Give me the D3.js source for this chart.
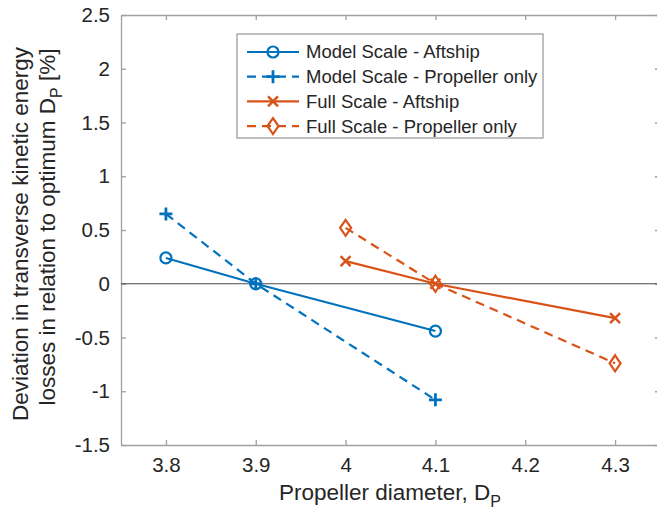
<!DOCTYPE html>
<html>
<head>
<meta charset="utf-8">
<script src="https://cdn.jsdelivr.net/npm/d3@7.9.0/dist/d3.min.js"></script>
<style>
  body { margin: 0; background: #fff; }
  svg { display: block; font-family: "Liberation Sans", Arial, Helvetica, sans-serif; }
</style>
</head>
<body>
<div id="chart"></div>
<script>
// values
const modelDiameters = [3.8, 3.9, 4.1];
const modelAftship = [0.24, 0, -0.44];
const modelPropOnly = [0.65, 0, -1.08];
const fullDiameters = [4.0, 4.1, 4.3];
const fullAftship = [0.21, 0, -0.32];
const fullPropOnly = [0.52, 0, -0.74];

const xTicks = [3.8, 3.9, 4.0, 4.1, 4.2, 4.3];
const yTicks = [-1.5, -1, -0.5, 0, 0.5, 1, 1.5, 2, 2.5];
const seriesNames = [
  'Model Scale - Aftship',
  'Model Scale - Propeller only',
  'Full Scale - Aftship',
  'Full Scale - Propeller only'
];

const blue = '#0072BD';
const orange = '#D95319';
const textColor = '#262626';
const axisColor = '#a0a0a0';

const width = 657, height = 514;
const plot = { left: 121, right: 660, top: 15, bottom: 445 };

const svg = d3.select('#chart')
  .append('svg')
  .attr('width', width)
  .attr('height', height);

const xScale = d3.scaleLinear().domain([3.75, 4.35]).range([plot.left, plot.right]);
const yScale = d3.scaleLinear().domain([-1.5, 2.5]).range([plot.bottom, plot.top]);

const fmt = d => String(d);

// axes, ticks pointing inward like matlab
const xAxis = svg.append('g')
  .attr('transform', `translate(0,${plot.bottom})`)
  .call(d3.axisBottom(xScale).tickValues(xTicks).tickFormat(fmt)
    .tickSizeInner(-5).tickSizeOuter(0).tickPadding(12));
const xTop = svg.append('g')
  .attr('transform', `translate(0,${plot.top})`)
  .call(d3.axisTop(xScale).tickValues(xTicks).tickFormat('')
    .tickSizeInner(-5).tickSizeOuter(0));
const yAxis = svg.append('g')
  .attr('transform', `translate(${plot.left},0)`)
  .call(d3.axisLeft(yScale).tickValues(yTicks).tickFormat(fmt)
    .tickSizeInner(-5).tickSizeOuter(0).tickPadding(11));
const yRight = svg.append('g')
  .attr('transform', `translate(${plot.right},0)`)
  .call(d3.axisRight(yScale).tickValues(yTicks).tickFormat('')
    .tickSizeInner(-5).tickSizeOuter(0));

[xAxis, xTop, yAxis, yRight].forEach(g => {
  g.select('.domain').attr('stroke', axisColor).attr('stroke-width', 1.3);
  g.selectAll('.tick line').attr('stroke', axisColor).attr('stroke-width', 1.3);
  g.selectAll('.tick text')
    .attr('fill', textColor)
    .style('font-size', '20.5px')
    .style('font-family', '"Liberation Sans", Arial, sans-serif');
});

// zero line
svg.append('line')
  .attr('x1', plot.left).attr('x2', plot.right)
  .attr('y1', yScale(0)).attr('y2', yScale(0))
  .attr('stroke', '#4a4a4a').attr('stroke-width', 1);

const series = [
  { name: seriesNames[0], xs: modelDiameters, ys: modelAftship, color: blue, dash: null, marker: 'circle' },
  { name: seriesNames[1], xs: modelDiameters, ys: modelPropOnly, color: blue, dash: '9,6', marker: 'plus' },
  { name: seriesNames[2], xs: fullDiameters, ys: fullAftship, color: orange, dash: null, marker: 'cross' },
  { name: seriesNames[3], xs: fullDiameters, ys: fullPropOnly, color: orange, dash: '9,6', marker: 'diamond' }
];

function drawMarker(g, type, x, y, color) {
  if (type === 'circle') {
    g.append('circle').attr('cx', x).attr('cy', y).attr('r', 5.5)
      .attr('fill', 'none').attr('stroke', color).attr('stroke-width', 2.2);
  } else if (type === 'plus') {
    g.append('path').attr('d', `M${x - 6.5},${y}H${x + 6.5}M${x},${y - 6.5}V${y + 6.5}`)
      .attr('stroke', color).attr('stroke-width', 2.8);
  } else if (type === 'cross') {
    g.append('path').attr('d', `M${x - 5},${y - 5}L${x + 5},${y + 5}M${x - 5},${y + 5}L${x + 5},${y - 5}`)
      .attr('stroke', color).attr('stroke-width', 2.4);
  } else if (type === 'diamond') {
    g.append('path').attr('d', `M${x},${y - 8}L${x + 5.5},${y}L${x},${y + 8}L${x - 5.5},${y}Z`)
      .attr('fill', 'none').attr('stroke', color).attr('stroke-width', 2.2);
  }
}

const line = d3.line().x(d => xScale(d[0])).y(d => yScale(d[1]));

series.forEach(s => {
  const pts = s.xs.map((x, i) => [x, s.ys[i]]);
  svg.append('path')
    .datum(pts)
    .attr('d', line)
    .attr('fill', 'none')
    .attr('stroke', s.color)
    .attr('stroke-width', 2.2)
    .attr('stroke-dasharray', s.dash);
  const mg = svg.append('g');
  pts.forEach(p => drawMarker(mg, s.marker, xScale(p[0]), yScale(p[1]), s.color));
});

// legend
const legend = svg.append('g');
legend.append('rect')
  .attr('x', 237).attr('y', 34).attr('width', 306).attr('height', 104)
  .attr('fill', '#fff').attr('stroke', '#808080').attr('stroke-width', 1);

series.forEach((s, i) => {
  const y = 52 + i * 24.7;
  legend.append('line')
    .attr('x1', 247).attr('x2', 299).attr('y1', y).attr('y2', y)
    .attr('stroke', s.color).attr('stroke-width', 2.2)
    .attr('stroke-dasharray', s.dash);
  drawMarker(legend, s.marker, 273, y, s.color);
  legend.append('text')
    .attr('x', 306).attr('y', y)
    .attr('dy', '0.35em')
    .attr('fill', textColor)
    .style('font-size', '18.5px')
    .text(s.name);
});

// axis labels
const xLabel = svg.append('text')
  .attr('x', 390).attr('y', 500)
  .attr('text-anchor', 'middle')
  .attr('fill', textColor)
  .style('font-size', '22.5px');
xLabel.append('tspan').text('Propeller diameter, D');
xLabel.append('tspan').attr('dy', 7).style('font-size', '16px').text('P');

const yLabel = svg.append('g')
  .attr('transform', `translate(0,${(plot.top + plot.bottom) / 2 + 4}) rotate(-90)`);
yLabel.append('text')
  .attr('x', 0).attr('y', 28)
  .attr('text-anchor', 'middle')
  .attr('fill', textColor)
  .style('font-size', '22.5px')
  .text('Deviation in transverse kinetic energy');
const yl2 = yLabel.append('text')
  .attr('x', 7).attr('y', 55)
  .attr('text-anchor', 'middle')
  .attr('fill', textColor)
  .style('font-size', '22.5px');
yl2.append('tspan').text('losses in relation to optimum D');
yl2.append('tspan').attr('dy', 7).style('font-size', '16px').text('P');
yl2.append('tspan').attr('dy', -7).text(' [%]');
</script>
</body>
</html>
